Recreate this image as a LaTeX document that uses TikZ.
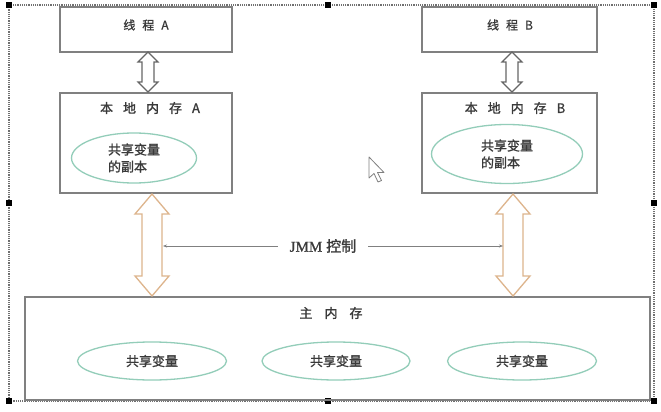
\documentclass[tikz,border=0pt]{standalone}
\usepackage{fontspec}
\newfontfamily\cjk[FakeBold=1.2]{Noto Sans CJK SC}
\newfontfamily\jmmfont[FakeBold=1]{Liberation Serif}
\usetikzlibrary{arrows.meta,shapes.geometric}
\definecolor{boxgray}{HTML}{808080}
\definecolor{txt}{HTML}{3A3A3A}
\definecolor{ell}{HTML}{93CDB9}
\definecolor{orng}{HTML}{DDB48C}
\definecolor{framegray}{HTML}{707070}
\tikzset{
  boxnode/.style={draw=boxgray, line width=1.5pt, inner sep=0pt},
  ellnode/.style={ellipse, draw=ell, line width=1.3pt, inner sep=0pt, font=\cjk\fontsize{13}{17}\selectfont, text=txt, align=left},
  lbl/.style={font=\cjk\fontsize{13}{16}\selectfont, text=txt, inner sep=0pt},
  hollowsmall/.style={draw=boxgray!80!black, line width=1.1pt, fill=white, line join=miter},
  hollowbig/.style={draw=orng, line width=1.3pt, fill=white, line join=miter},
  handle/.style={fill=black, draw=none, minimum size=6pt, inner sep=0pt},
  jmmarrow/.style={draw=gray, line width=0.6pt, -{Stealth[length=4pt,width=3pt]}}
}
\begin{document}
\begin{tikzpicture}[x=1pt,y=-1pt]
\useasboundingbox (0,0) rectangle (661,412);
\fill[white] (0,0) rectangle (661,412);
% selection frame
\draw[framegray, densely dotted, line width=1.2pt] (9,5) rectangle (654,401);
\foreach \p/\n in {{(9,5)}/h1,{(328,5)}/h2,{(654,5)}/h3,{(9,203)}/h4,{(654,203)}/h5,{(9,401)}/h6,{(328,401)}/h7,{(654,401)}/h8}
  \node[handle] (\n) at \p {};
% boxes
\node[boxnode, minimum width=172pt, minimum height=45pt] (ta) at (146,29.5) {};
\node[boxnode, minimum width=172pt, minimum height=100pt] (la) at (146,143) {};
\node[boxnode, minimum width=175pt, minimum height=45pt] (tb) at (509.5,29.5) {};
\node[boxnode, minimum width=175pt, minimum height=100pt] (lb) at (509.5,143) {};
\node[boxnode, minimum width=625pt, minimum height=103pt] (mm) at (337.5,348.5) {};
% labels
\node[lbl, font=\cjk\fontsize{12}{14}\selectfont] (tat) at (146,25) {线\hspace{7pt}程\hspace{7pt}A};
\node[lbl, font=\cjk\fontsize{12}{14}\selectfont] (tbt) at (510,25) {线\hspace{7pt}程\hspace{7pt}B};
\node[lbl] (lat) at (150,108) {本\hspace{10pt}地\hspace{10pt}内\hspace{10pt}存\hspace{10pt}A};
\node[lbl] (lbt) at (515,108) {本\hspace{10pt}地\hspace{10pt}内\hspace{10pt}存\hspace{10pt}B};
\node[lbl] (mmt) at (331,313) {主\hspace{12pt}内\hspace{12pt}存};
% ellipses
\node[ellnode, minimum width=125pt, minimum height=50pt] (ea) at (134,158) {共享变量\\的副本};
\node[ellnode, minimum width=151pt, minimum height=59pt] (eb) at (507,154) {共享变量\\的副本};
\node[ellnode, minimum width=149pt, minimum height=38pt] (e1) at (152,361) {共享变量};
\node[ellnode, minimum width=148pt, minimum height=38pt] (e2) at (336,361) {共享变量};
\node[ellnode, minimum width=149pt, minimum height=38pt] (e3) at (522,361) {共享变量};
% small hollow arrows (thread <-> local memory)
\draw[hollowsmall] (148,52) -- (158,62) -- (154,62) -- (154,82) -- (158,82) -- (148,92)
  -- (138,82) -- (142,82) -- (142,62) -- (138,62) -- cycle;
\draw[hollowsmall] (512,52) -- (522,62) -- (518,62) -- (518,82) -- (522,82) -- (512,92)
  -- (502,82) -- (506,82) -- (506,62) -- (502,62) -- cycle;
% big hollow arrows (local <-> main memory)
\draw[hollowbig] (152,194) -- (169,214) -- (162,214) -- (162,276) -- (169,276) -- (152,296)
  -- (135,276) -- (142,276) -- (142,214) -- (135,214) -- cycle;
\draw[hollowbig] (513,194) -- (530,214) -- (523,214) -- (523,276) -- (530,276) -- (513,296)
  -- (496,276) -- (503,276) -- (503,214) -- (496,214) -- cycle;
% JMM control
\node[inner sep=0pt, text=txt] (jmm) at (323,246) {{\jmmfont\fontsize{15}{18}\selectfont JMM}\hspace{4pt}{\cjk\fontsize{15}{18}\selectfont 控制}};
\coordinate (jl) at (163,246);
\coordinate (jr) at (503,246);
\draw[jmmarrow] ([xshift=-12pt]jmm.west) -- (jl);
\draw[jmmarrow] ([xshift=12pt]jmm.east) -- (jr);
% mouse cursor
\draw[fill=white, draw=gray, line width=0.8pt, line join=round]
  (369,157) -- (369,178) -- (374,173.5) -- (378,182) -- (381.5,180.5) -- (377.5,172.5) -- (384,172.5) -- cycle;
\end{tikzpicture}
\end{document}
